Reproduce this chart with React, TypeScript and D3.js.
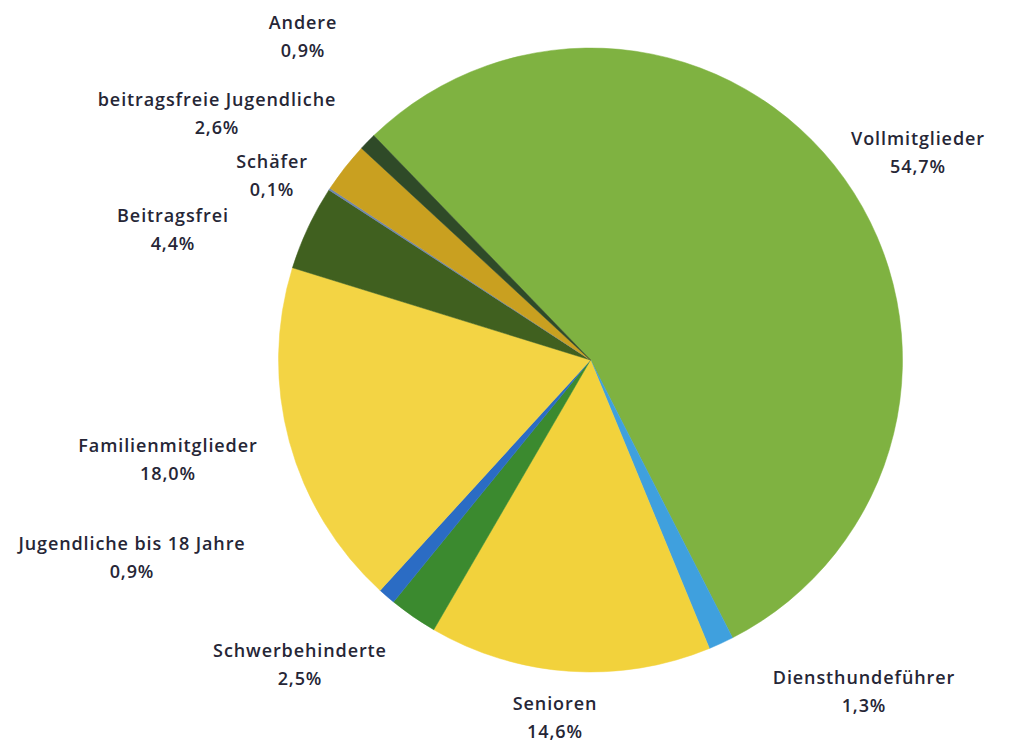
import React from "react";
import * as d3 from "d3";

const categories = [
  "Vollmitglieder",
  "Diensthundeführer",
  "Senioren",
  "Schwerbehinderte",
  "Jugendliche bis 18 Jahre",
  "Familienmitglieder",
  "Beitragsfrei",
  "Schäfer",
  "beitragsfreie Jugendliche",
  "Andere",
];
const values = [54.7, 1.3, 14.6, 2.5, 0.9, 18.0, 4.4, 0.1, 2.6, 0.9];
const valueLabels = ["54,7%", "1,3%", "14,6%", "2,5%", "0,9%", "18,0%", "4,4%", "0,1%", "2,6%", "0,9%"];
const colors = [
  "#7fb241",
  "#3fa0de",
  "#f2d23c",
  "#3b8a2f",
  "#2b6cc4",
  "#f3d444",
  "#40601f",
  "#6f86b0",
  "#c9a020",
  "#2f4a28",
];
// label anchor positions (center of name line)
const labelPos: [number, number][] = [
  [918, 138],
  [864, 677],
  [555, 703],
  [300, 650],
  [132, 543],
  [168, 445],
  [173, 215],
  [272, 161],
  [217, 99],
  [303, 22],
];

export default function App() {
  const width = 1011;
  const height = 742;
  const cx = 590.5;
  const cy = 360;
  const r = 312;
  const startDeg = -44;
  const pie = d3
    .pie<number>()
    .sort(null)
    .value((d) => d)
    .startAngle((startDeg * Math.PI) / 180)
    .endAngle(((startDeg + 360) * Math.PI) / 180);
  const arcs = pie(values);
  const arc = d3.arc<d3.PieArcDatum<number>>().innerRadius(0).outerRadius(r);
  const font = "'Open Sans', sans-serif";
  return (
    <svg
      width={width}
      height={height}
      style={{ position: "absolute", left: 0, top: 0, background: "#fff" }}
    >
      <g transform={`translate(${cx},${cy})`}>
        {arcs.map((a, i) => (
          <path key={i} d={arc(a) || ""} fill={colors[i]} stroke={colors[i]} strokeWidth={0.5} />
        ))}
      </g>
      {categories.map((c, i) => (
        <g
          key={c}
          fontFamily={font}
          fontSize={18}
          fontWeight={600}
          letterSpacing={0.9}
          fill="#262636"
          textAnchor="middle"
        >
          <text x={labelPos[i][0]} y={labelPos[i][1]} dominantBaseline="central">
            {c}
          </text>
          <text x={labelPos[i][0]} y={labelPos[i][1] + 28} dominantBaseline="central">
            {valueLabels[i]}
          </text>
        </g>
      ))}
    </svg>
  );
}
